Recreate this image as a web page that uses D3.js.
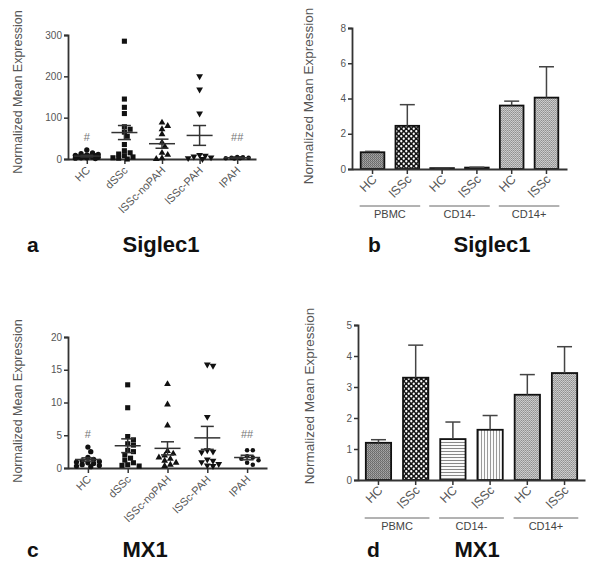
<!DOCTYPE html>
<html><head><meta charset="utf-8">
<script src="https://cdn.jsdelivr.net/npm/d3@7"></script>
<style>body{margin:0;background:#fff} text{font-family:"Liberation Sans",Arial,sans-serif}</style>
</head><body><svg id="c" width="600" height="568"></svg>
<script>
// ---------- data ----------
const groups = ["HC","dSSc","lSSc-noPAH","lSSc-PAH","IPAH"];
const siglecHC = [22,15,13,11,10,9,8,7,6,5,5,4,3,3,2,1];
const siglecDSSc = [285,145,125,110,78,72,65,55,35,20,15,12,8,5,3,2,0];
const siglecNoPAH = [88,80,72,60,40,30,15,10,2,0];
const siglecPAH = [200,168,110,10,8,6,4,2,0];
const siglecIPAH = [5,4,3,3,2,2,1];
const siglecMean = [7,64,37,57,3];
const siglecSem = [2,17,11,24,1];
const siglecTicks = [0,100,200,300];

const mx1HC = [3.2,2.5,1.6,1.3,1.1,1.0,0.9,0.8,0.7,0.5,0.4,0.3,0.2];
const mx1DSSc = [12.7,9.2,4.8,4.3,3.7,3.5,2.7,2.5,2.0,1.5,1.2,0.8,0.5,0.4,0.3];
const mx1NoPAH = [12.8,9.7,6.5,2.6,2.2,1.9,1.6,1.4,1.1,0.8,0.5,0.3];
const mx1PAH = [15.8,15.6,7.8,2.7,2.5,2.4,1.3,1.1,0.9,0.6,0.4,0.3];
const mx1IPAH = [2.7,2.7,1.8,1.6,1.4,1.2,0.8,0.5];
const mx1Mean = [1.3,3.4,3.0,4.6,1.6];
const mx1Sem = [0.25,1.05,1.0,1.75,0.35];
const mx1Ticks = [0,5,10,15,20];

const sigMarks = ["#","","","","##"];

const cellGroups = ["PBMC","CD14-","CD14+"];
const barLabels = ["HC","lSSc","HC","lSSc","HC","lSSc"];
const siglecBarMean = [0.95,2.45,0.05,0.08,3.6,4.05];
const siglecBarErr = [0.05,1.2,0.02,0.02,0.25,1.75];
const siglecBarTicks = [0,2,4,6,8];
const mx1BarMean = [1.2,3.3,1.32,1.62,2.75,3.45];
const mx1BarErr = [0.1,1.05,0.55,0.46,0.65,0.85];
const mx1BarTicks = [0,1,2,3,4,5];

// ---------- drawing ----------
const svg = d3.select("#c");
const defs = svg.append("defs");
function pattern(id, w, h, cells){
  const p = defs.append("pattern").attr("id",id).attr("patternUnits","userSpaceOnUse")
    .attr("width",w).attr("height",h);
  cells(p);
}
pattern("pDark",2,2,p=>{
  [[0,0,"#686868"],[1,0,"#a8a8a8"],[0,1,"#959595"],[1,1,"#747474"]].forEach(c=>
    p.append("rect").attr("x",c[0]).attr("y",c[1]).attr("width",1).attr("height",1).attr("fill",c[2]));
});
pattern("pLight",2,2,p=>{
  [[0,0,"#c4c4c4"],[1,0,"#909090"],[0,1,"#a0a0a0"],[1,1,"#d0d0d0"]].forEach(c=>
    p.append("rect").attr("x",c[0]).attr("y",c[1]).attr("width",1).attr("height",1).attr("fill",c[2]));
});
pattern("pCheck",5,5,p=>{
  p.append("rect").attr("width",5).attr("height",5).attr("fill","#151515");
  p.append("circle").attr("cx",1.25).attr("cy",1.25).attr("r",1.15).attr("fill","#fff");
  p.append("circle").attr("cx",3.75).attr("cy",3.75).attr("r",1.15).attr("fill","#fff");
});
pattern("pH",4,3,p=>{
  p.append("rect").attr("width",4).attr("height",3).attr("fill","#fafafa");
  p.append("rect").attr("y",1).attr("width",4).attr("height",1).attr("fill","#888");
});
pattern("pV",3,4,p=>{
  p.append("rect").attr("width",3).attr("height",4).attr("fill","#fafafa");
  p.append("rect").attr("x",1).attr("width",1).attr("height",4).attr("fill","#9a9a9a");
});

const axisColor = "#333";
const textColor = "#555";

function styleAxis(g){
  g.select(".domain").attr("stroke",axisColor).attr("stroke-width",1.8);
  g.selectAll(".tick line").attr("stroke",axisColor).attr("stroke-width",1.5);
  g.selectAll(".tick text").attr("fill",textColor).attr("font-size",10)
    .style("font-family",'"Liberation Sans",Arial,sans-serif');
}

function yLabel(x, yc, size){
  svg.append("text").attr("transform",`translate(${x},${yc}) rotate(-90)`)
    .attr("text-anchor","middle").attr("font-size",size).attr("fill",textColor)
    .text("Normalized Mean Expression");
}
function titles(letterX, titleX, baseY, letter, title){
  svg.append("text").attr("x",letterX).attr("y",baseY).attr("font-size",21)
    .attr("font-weight","bold").attr("fill","#111").text(letter);
  svg.append("text").attr("x",titleX).attr("y",baseY).attr("text-anchor","middle")
    .attr("font-size",22).attr("font-weight","bold").attr("fill","#111").text(title);
}

const symbols = [
  d3.symbol().type(d3.symbolCircle).size(22),
  d3.symbol().type(d3.symbolSquare).size(26),
  d3.symbol().type(d3.symbolTriangle).size(20),
  d3.symbol().type(d3.symbolTriangle).size(20),
  d3.symbol().type(d3.symbolCircle).size(16)
];
const symRot = [0,0,0,180,0];

function swarm(vals, y, diam, maxSpread){
  const sorted = vals.slice().sort((a,b)=>b-a);
  const placed = [];
  const cands = [0];
  const st = diam*0.55;
  for(let k=1;k*st<=maxSpread;k++){ cands.push(k*st,-k*st); }
  sorted.forEach(v=>{
    const py = y(v);
    let best = null, bestD = -1;
    for(const off of cands){
      const dmin = placed.length? d3.min(placed,p=>Math.hypot(p.dx-off,p.y-py)) : Infinity;
      if(dmin>=diam*0.95){ best = off; break; }
      if(dmin>bestD){ bestD = dmin; best = off; }
    }
    placed.push({dx:best,y:py});
  });
  return placed;
}

function scatterPanel(cfg){
  const y = d3.scaleLinear().domain([0,cfg.ticks[cfg.ticks.length-1]]).range([cfg.y0,cfg.y1]);
  const x = d3.scalePoint().domain(groups).range([cfg.x0,cfg.x1]).padding(0.5);
  const ga = svg.append("g").attr("transform",`translate(${cfg.x0},0)`)
    .call(d3.axisLeft(y).tickValues(cfg.ticks).tickSize(4).tickPadding(2).tickFormat(d3.format("d")));
  styleAxis(ga);
  const gx = svg.append("g").attr("transform",`translate(0,${cfg.y0})`)
    .call(d3.axisBottom(x).tickSize(5).tickSizeOuter(0).tickFormat(""));
  styleAxis(gx);
  groups.forEach((gname,i)=>{
    const cx = x(gname);
    svg.append("text").attr("transform",`translate(${cx+4},${cfg.y0+12}) rotate(-45)`)
      .attr("text-anchor","end").attr("font-size",11).attr("fill",textColor).text(gname);
    const pts = swarm(cfg.points[i], y, 5.2, 13);
    svg.append("g").selectAll("path").data(pts).join("path")
      .attr("d",symbols[i]())
      .attr("transform",p=>`translate(${cx+p.dx},${p.y}) rotate(${symRot[i]})`)
      .attr("fill","#111");
    const m = cfg.mean[i], s = cfg.sem[i];
    const lg = svg.append("g").attr("stroke","#333").attr("stroke-width",1.5);
    lg.append("line").attr("x1",cx-13).attr("x2",cx+13).attr("y1",y(m)).attr("y2",y(m));
    lg.append("line").attr("x1",cx).attr("x2",cx).attr("y1",y(m+s)).attr("y2",y(Math.max(0,m-s)));
    [m+s, Math.max(0,m-s)].forEach(v=>lg.append("line").attr("x1",cx-6.5).attr("x2",cx+6.5).attr("y1",y(v)).attr("y2",y(v)));
  });
  const markMax = d3.max(groups.map((g,i)=>sigMarks[i]?d3.max(cfg.points[i]):null).filter(v=>v!=null));
  groups.forEach((gname,i)=>{
    if(!sigMarks[i]) return;
    svg.append("text").attr("x",x(gname)).attr("y",y(markMax)-9).attr("text-anchor","middle")
      .attr("font-size",11).attr("fill","#777").text(sigMarks[i]);
  });
}

const barFills = ["url(#pDark)","url(#pCheck)","url(#pH)","url(#pV)","url(#pLight)","url(#pLight)"];

function barPanel(cfg){
  const ids = barLabels.map((d,i)=>i);
  const y = d3.scaleLinear().domain([0,cfg.ticks[cfg.ticks.length-1]]).range([cfg.y0,cfg.y1]);
  const x = d3.scaleBand().domain(ids).range([cfg.x0,cfg.x1]).paddingInner(0.32).paddingOuter(cfg.po);
  const gb = svg.append("g");
  gb.selectAll("rect").data(ids).join("rect")
    .attr("x",i=>x(i)).attr("width",x.bandwidth())
    .attr("y",i=>y(cfg.mean[i])).attr("height",i=>cfg.y0-y(cfg.mean[i]))
    .attr("fill",i=>barFills[i]).attr("stroke","#111").attr("stroke-width",1.8);
  ids.forEach(i=>{
    const cx = x(i)+x.bandwidth()/2;
    const top = y(cfg.mean[i]+cfg.err[i]);
    svg.append("line").attr("x1",cx).attr("x2",cx).attr("y1",y(cfg.mean[i])).attr("y2",top)
      .attr("stroke","#444").attr("stroke-width",1.5);
    svg.append("line").attr("x1",cx-7.5).attr("x2",cx+7.5).attr("y1",top).attr("y2",top)
      .attr("stroke","#444").attr("stroke-width",1.5);
    svg.append("text").attr("transform",`translate(${cx+5},${cfg.y0+11}) rotate(-45)`)
      .attr("text-anchor","end").attr("font-size",12.5).attr("fill",textColor).text(barLabels[i]);
  });
  const ga = svg.append("g").attr("transform",`translate(${cfg.x0},0)`)
    .call(d3.axisLeft(y).tickValues(cfg.ticks).tickSize(4).tickPadding(2).tickFormat(d3.format("d")));
  styleAxis(ga);
  const gx = svg.append("g").attr("transform",`translate(0,${cfg.y0})`)
    .call(d3.axisBottom(x).tickSize(5).tickSizeOuter(0).tickFormat(""));
  styleAxis(gx);
  cellGroups.forEach((c,k)=>{
    const mid = (x(2*k)+x(2*k+1)+x.bandwidth())/2;
    const half = x.step()*0.87;
    svg.append("line").attr("x1",mid-half).attr("x2",mid+half).attr("y1",cfg.gy).attr("y2",cfg.gy)
      .attr("stroke","#666").attr("stroke-width",1);
    svg.append("text").attr("x",mid).attr("y",cfg.gy+12).attr("text-anchor","middle")
      .attr("font-size",11).attr("fill","#444").text(c);
  });
}

// Panel a
scatterPanel({x0:68,x1:256,y0:159,y1:35,ticks:siglecTicks,
  points:[siglecHC,siglecDSSc,siglecNoPAH,siglecPAH,siglecIPAH],mean:siglecMean,sem:siglecSem});
yLabel(22,92,12.5);
titles(27,161,252,"a","Siglec1");

// Panel b
barPanel({x0:352,x1:567,y0:169,y1:28,po:0.25,ticks:siglecBarTicks,mean:siglecBarMean,err:siglecBarErr,gy:206});
yLabel(313,96,13.5);
titles(368,492,252,"b","Siglec1");

// Panel c
scatterPanel({x0:68,x1:267,y0:468,y1:337,ticks:mx1Ticks,
  points:[mx1HC,mx1DSSc,mx1NoPAH,mx1PAH,mx1IPAH],mean:mx1Mean,sem:mx1Sem});
yLabel(22,401,12.5);
titles(27,145,557,"c","MX1");

// Panel d
barPanel({x0:358,x1:585,y0:480,y1:325,po:0.21,ticks:mx1BarTicks,mean:mx1BarMean,err:mx1BarErr,gy:518});
yLabel(314,396,13.5);
titles(367,477,557,"d","MX1");
</script></body></html>
